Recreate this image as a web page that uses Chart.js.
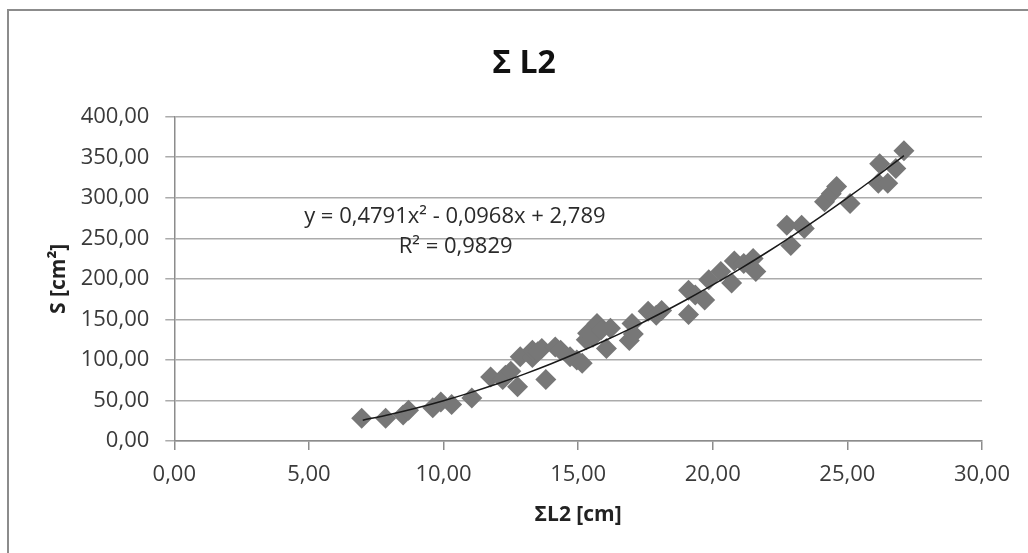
<!DOCTYPE html>
<html>
<head>
<meta charset="utf-8">
<script src="https://cdn.jsdelivr.net/npm/chart.js@4"></script>
<style>
  body { margin: 0; background: #fff; overflow: hidden; }
  #frame { position: absolute; left: 7px; top: 9px; width: 1100px; height: 600px;
           border-left: 2px solid #8c8c8c; border-top: 2px solid #8c8c8c; }
  #chart { position: absolute; left: 0; top: 0; }
</style>
</head>
<body>
<div id="frame"></div>
<canvas id="chart" width="1022" height="553"></canvas>
<script>
// measured points (ΣL2 [cm], S [cm²])
const xs = [6.96, 7.85, 8.5, 8.7, 9.6, 9.9, 10.3, 11.05, 11.75, 12.2, 12.3, 12.5, 12.75, 12.85,
  13.3, 13.3, 13.5, 13.65, 13.8, 14.15, 14.35, 14.7, 14.95, 15.15, 15.3, 15.35, 15.55, 15.7,
  15.85, 16.05, 16.2, 16.9, 17.0, 17.05, 17.6, 17.9, 18.1, 19.1, 19.1, 19.35, 19.7, 19.85,
  20.3, 20.7, 20.8, 21.15, 21.5, 21.6, 22.75, 22.9, 23.3, 23.4, 24.15, 24.4, 24.6, 25.1,
  26.15, 26.2, 26.5, 26.8, 27.1]
const ys = [28, 28, 32, 38, 41, 48, 45, 53, 79, 76, 81, 86, 67, 104,
  103, 112, 110, 114, 76, 116, 112, 104, 100, 96, 125, 133, 128, 145,
  137, 114, 139, 124, 145, 132, 160, 155, 161, 156, 186, 180, 174, 199,
  209, 195, 222, 219, 225, 209, 266, 241, 266, 262, 295, 305, 314, 293,
  318, 342, 318, 336, 358]

// trend curve
const trendX = [7, 8, 9, 10, 11, 12, 13, 14, 15, 16, 17, 18, 19, 20, 21, 22, 23, 24, 25, 26, 27.1]
const trendY = [25.6, 32.7, 40.7, 49.7, 59.7, 70.6, 82.5, 95.3, 109.1, 123.9, 139.6, 156.3,
  173.9, 192.5, 212.0, 232.5, 254.0, 276.4, 299.8, 324.1, 352.0]

const equation = ['y = 0,4791x² - 0,0968x + 2,789', 'R² = 0,9829']

const FONT = "'Open Sans', sans-serif"
const comma = v => v.toFixed(2).replace('.', ',')

const points = xs.map((x, i) => ({ x, y: ys[i] }))
const trend = trendX.map((x, i) => ({ x, y: trendY[i] }))

const equationLabel = {
  id: 'equationLabel',
  afterDatasetsDraw(chart) {
    const { ctx, scales: { x, y } } = chart
    ctx.save()
    ctx.font = `22px ${FONT}`
    ctx.fillStyle = '#2a2a2a'
    ctx.textAlign = 'center'
    ctx.textBaseline = 'middle'
    ctx.fillText(equation[0], x.getPixelForValue(10.42), y.getPixelForValue(276))
    ctx.fillText(equation[1], x.getPixelForValue(10.45), y.getPixelForValue(239))
    ctx.restore()
  }
}

new Chart(document.getElementById('chart'), {
  type: 'scatter',
  data: {
    datasets: [
      {
        data: trend,
        showLine: true,
        borderColor: '#1a1a1a',
        borderWidth: 1.5,
        pointRadius: 0,
        tension: 0.4,
        cubicInterpolationMode: 'monotone'
      },
      {
        data: points,
        pointStyle: 'rectRot',
        pointRadius: 10.5,
        backgroundColor: '#777777',
        borderWidth: 0
      }
    ]
  },
  options: {
    responsive: false,
    animation: false,
    layout: { padding: { left: 26, right: 0, top: 0, bottom: 0 } },
    plugins: {
      legend: { display: false },
      tooltip: { enabled: false },
      title: {
        display: true,
        text: 'Σ L2',
        color: '#111',
        font: { family: FONT, size: 32, weight: 'bold', lineHeight: 1.2 },
        padding: { top: 44.5, bottom: 33.8 }
      }
    },
    scales: {
      x: {
        type: 'linear',
        min: 0,
        max: 30,
        afterFit: s => { s.height = 112 },
        ticks: { stepSize: 5, padding: 12, color: '#3a3a3a', font: { family: FONT, size: 22 }, callback: comma },
        grid: { drawOnChartArea: false, tickLength: 9, color: '#8c8c8c', lineWidth: 1.5 },
        border: { color: '#8c8c8c', width: 1.5 },
        title: {
          display: true,
          text: 'ΣL2 [cm]',
          color: '#222',
          font: { family: FONT, size: 21, weight: 'bold', lineHeight: 1.2 },
          padding: { top: 0, bottom: 25.4 }
        }
      },
      y: {
        min: 0,
        max: 400,
        afterFit: s => { s.width = 148.3 },
        ticks: { stepSize: 50, padding: 16, color: '#3a3a3a', font: { family: FONT, size: 22 }, callback: comma },
        grid: { tickLength: 9, color: '#ababab', lineWidth: 1.5 },
        border: { color: '#8c8c8c', width: 1.5 },
        title: {
          display: true,
          text: 'S [cm²]',
          color: '#222',
          font: { family: FONT, size: 21, weight: 'bold', lineHeight: 1.2 },
          padding: { top: 20.4, bottom: 0 }
        }
      }
    }
  },
  plugins: [equationLabel]
})
</script>
</body>
</html>
